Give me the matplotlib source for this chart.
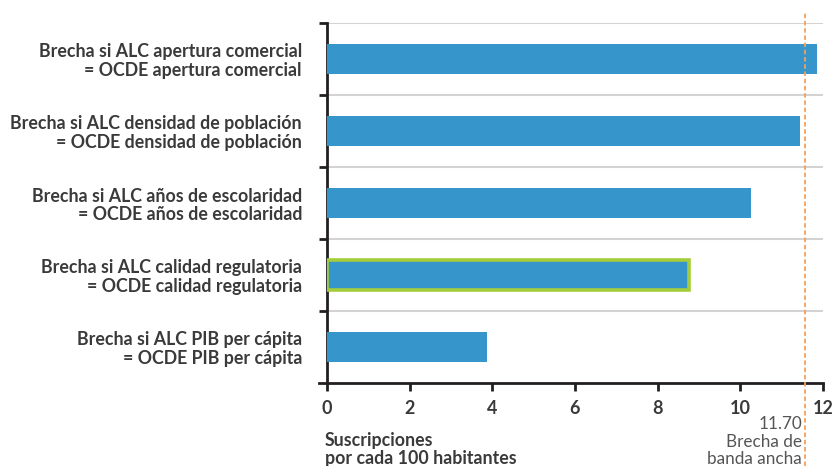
import matplotlib
matplotlib.use("Agg")
import matplotlib.pyplot as plt
from matplotlib.transforms import blended_transform_factory

categories = [
    "Brecha si ALC apertura comercial\n= OCDE apertura comercial",
    "Brecha si ALC densidad de población\n= OCDE densidad de población",
    "Brecha si ALC años de escolaridad\n= OCDE años de escolaridad",
    "Brecha si ALC calidad regulatoria\n= OCDE calidad regulatoria",
    "Brecha si ALC PIB per cápita\n= OCDE PIB per cápita",
]
values = [11.85, 11.45, 10.25, 8.76, 3.88]
highlight = [False, False, False, True, False]
ref_value = 11.57
ref_label = "11.70\nBrecha de\nbanda ancha"
xticks = [0, 2, 4, 6, 8, 10, 12]
xlabel = "Suscripciones\npor cada 100 habitantes"

plt.rcParams['font.family'] = ['Lato', 'DejaVu Sans']

fig = plt.figure(figsize=(8.36, 4.66), dpi=100)
ax = fig.add_axes([327/836, 1-383/466, (823-327)/836, 360/466])

blue = "#3696CC"
green = "#A5CD39"
dark = "#231F20"
text_c = "#3a3a3a"

n = len(categories)
ypos = list(range(n))
for y, v, h in zip(ypos, values, highlight):
    if h:
        ax.barh(y, v, height=0.42, color=blue, edgecolor=green, linewidth=2.6, zorder=3)
    else:
        ax.barh(y, v, height=0.42, color=blue, linewidth=0, zorder=3)

ax.set_ylim(n - 0.5, -0.5)
ax.set_xlim(0, 12)

# separators
for b in range(n):
    ax.axhline(b - 0.5, color="#D3D3D3", linewidth=1.5, zorder=1)

ax.set_yticks(ypos)
ax.set_yticklabels(categories, fontweight="bold", fontsize=12.8, color=text_c,
                   linespacing=1.1)
ax.tick_params(axis="y", which="major", length=0, pad=18)
ax.set_yticks([b - 0.5 for b in range(n)], minor=True)
ax.tick_params(axis="y", which="minor", length=6, width=2, color=dark)

ax.set_xticks(xticks)
ax.set_xticklabels([str(t) for t in xticks], fontweight="bold", fontsize=13, color=text_c)
ax.tick_params(axis="x", length=6, width=2, color=dark, pad=6)

for s in ["top", "right"]:
    ax.spines[s].set_visible(False)
for s in ["left", "bottom"]:
    ax.spines[s].set_color(dark)
    ax.spines[s].set_linewidth(2)
ax.spines["bottom"].set_bounds(-0.2, 12)

# reference line
ax.axvline(ref_value, ymin=-0.23, ymax=1.033, color="#F5A05A", linestyle=(0, (2.5, 1.5)),
           linewidth=1.3, clip_on=False, zorder=4)

tr = blended_transform_factory(ax.transData, fig.transFigure)
ax.text(ref_value - 0.08, 1 - 416/466, ref_label, transform=tr, ha="right", va="top",
        fontsize=12.3, color="#555555", linespacing=1.13)

fig.text(325/836, 1 - 432/466, xlabel, ha="left", va="top", fontsize=12.8,
         fontweight="bold", color=text_c, linespacing=1.05)

fig.savefig("out.png", dpi=100)
